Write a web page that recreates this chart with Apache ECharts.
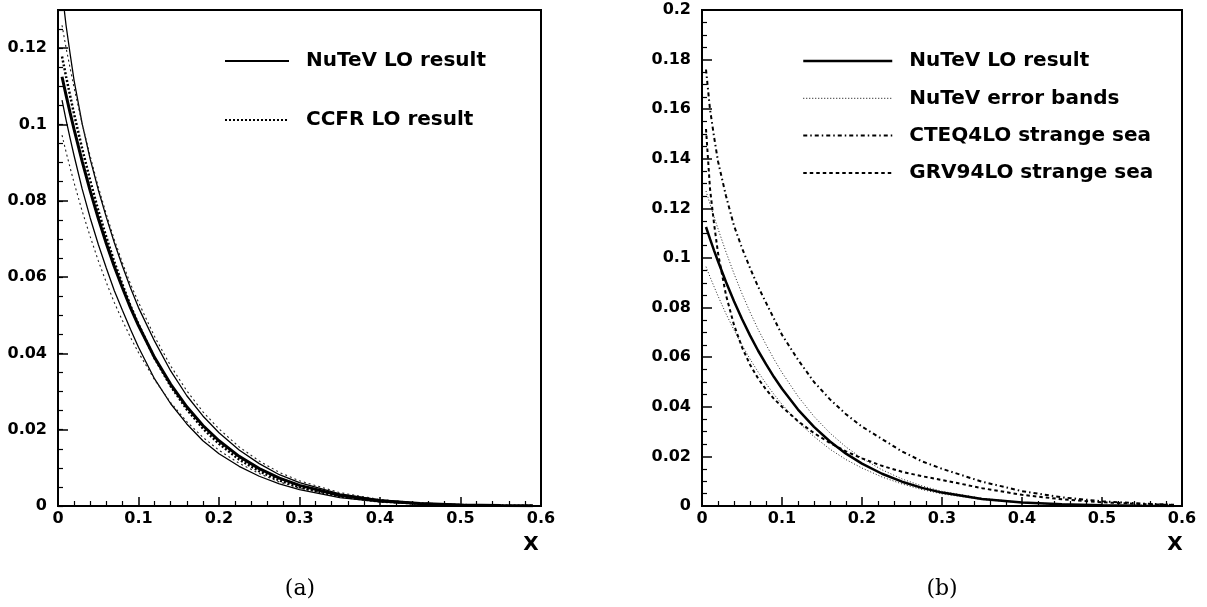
<!DOCTYPE html>
<html><head><meta charset="utf-8">
<script src="https://cdn.jsdelivr.net/npm/echarts@6/dist/echarts.min.js"></script>
<style>html,body{margin:0;padding:0;background:#fff}#c{width:1207px;height:607px}</style>
</head><body><div id="c"></div>
<script>
const xs = [0.005,0.01,0.015,0.02,0.03,0.04,0.05,0.06,0.07,0.08,0.09,0.1,0.12,0.14,0.16,0.18,0.2,0.225,0.25,0.275,0.3,0.35,0.4,0.45,0.5,0.55,0.59];
const nutevCentral = [0.1125,0.1077,0.1031,0.0987,0.0903,0.0826,0.0754,0.0688,0.0627,0.0572,0.0520,0.0473,0.0389,0.0319,0.0260,0.0211,0.0171,0.0130,0.0098,0.0073,0.0054,0.0028,0.0014,0.00067,0.00029,0.00012,0.00005];
const nutevUpperA = [0.135,0.126,0.1186,0.1115,0.1002,0.0909,0.0829,0.0757,0.0690,0.0629,0.0572,0.0520,0.0432,0.0354,0.0289,0.0236,0.0192,0.0147,0.0111,0.0082,0.0061,0.0032,0.0016,0.00076,0.00033,0.00014,0.00006];
const nutevLowerA = [0.1064,0.1012,0.0964,0.0918,0.0831,0.0755,0.0686,0.0624,0.0564,0.0513,0.0463,0.0416,0.0333,0.0268,0.0215,0.0171,0.0137,0.0104,0.0078,0.0058,0.0043,0.0022,0.0011,0.00052,0.00023,0.00009,0.00004];
const ccfrCentral = [0.1178,0.1126,0.1076,0.1027,0.0937,0.0853,0.0775,0.0705,0.0640,0.0581,0.0525,0.0476,0.0387,0.0314,0.0253,0.0203,0.0163,0.0122,0.0091,0.0067,0.0049,0.0025,0.0012,0.00057,0.00025,0.0001,0.00004];
const ccfrUpper = [0.126,0.1201,0.1148,0.1096,0.1002,0.0917,0.0837,0.0765,0.0698,0.0638,0.0582,0.0534,0.0444,0.0367,0.0302,0.0247,0.0202,0.0155,0.0118,0.0088,0.0066,0.0035,0.0017,0.0008,0.00036,0.00015,0.00006];
const ccfrLower = [0.0972,0.0928,0.0887,0.0847,0.0773,0.0706,0.0643,0.0586,0.0533,0.0486,0.0442,0.0402,0.0331,0.0271,0.0221,0.0180,0.0146,0.0112,0.0085,0.0063,0.0047,0.0025,0.0012,0.00058,0.00025,0.0001,0.00004];
const nutevUpperB = [0.127,0.1218,0.1167,0.1118,0.1024,0.0937,0.0856,0.0782,0.0713,0.0651,0.0592,0.0538,0.0442,0.0361,0.0294,0.0238,0.0192,0.0146,0.0109,0.0081,0.0059,0.0031,0.0015,0.00073,0.00032,0.00013,0.00005];
const nutevLowerB = [0.0965,0.0924,0.0885,0.0847,0.0775,0.0710,0.0649,0.0593,0.0541,0.0494,0.0450,0.0410,0.0339,0.0280,0.0229,0.0187,0.0153,0.0117,0.0089,0.0066,0.0049,0.0026,0.0013,0.00062,0.00027,0.00011,0.00005];
const cteq = [0.176,0.160,0.149,0.139,0.125,0.113,0.104,0.096,0.0885,0.082,0.0755,0.069,0.059,0.050,0.043,0.037,0.032,0.027,0.022,0.018,0.015,0.0098,0.0060,0.0035,0.0019,0.0010,0.0005];
const grv = [0.152,0.128,0.114,0.102,0.085,0.073,0.064,0.057,0.0515,0.0470,0.0432,0.0400,0.0342,0.0294,0.0254,0.0220,0.0192,0.0162,0.0138,0.0120,0.0105,0.0072,0.0045,0.0027,0.0015,0.0008,0.0004];
const legendA = ['NuTeV LO result','CCFR LO result'];
const legendB = ['NuTeV LO result','NuTeV error bands','CTEQ4LO strange sea','GRV94LO strange sea'];

const FONT = 'DejaVu Sans';
function pairs(ys){ return xs.map((x,i)=>[x, ys[i]]); }
function line(name, ys, gi, yi, width, type, color){
  return {type:'line', name:name, data:pairs(ys), xAxisIndex:gi, yAxisIndex:yi,
    symbol:'none', showSymbol:false, smooth:false, clip:true, silent:true,
    itemStyle:{color:color||'#000'},
    lineStyle:{color:color||'#000', width:width, type:type||'solid'}};
}
const tickLabel = {color:'#000', fontFamily:FONT, fontWeight:'bold', fontSize:16};
function xAx(gi){
  return {gridIndex:gi, type:'value', min:0, max:0.6, interval:0.1,
    axisLine:{onZero:false, lineStyle:{color:'#000', width:2}},
    axisTick:{inside:true, length:9, lineStyle:{color:'#000', width:1.5}},
    minorTick:{show:true, splitNumber:5, length:5, lineStyle:{color:'#000', width:1.2}},
    axisLabel:Object.assign({margin:5}, tickLabel), splitLine:{show:false}};
}
const hid = {opacity:0, color:'rgba(0,0,0,0)', borderWidth:0};
const chart = echarts.init(document.getElementById('c'));
chart.setOption({
  animation:false,
  backgroundColor:'#fff',
  grid:[
    {left:58, top:10, width:483, height:496, show:true, borderColor:'#000', borderWidth:2},
    {left:702, top:10, width:480, height:496, show:true, borderColor:'#000', borderWidth:2}
  ],
  xAxis:[xAx(0), xAx(1)],
  yAxis:[
    {gridIndex:0, type:'value', min:0, max:0.13, interval:0.02,
      axisLine:{lineStyle:{color:'#000', width:2}},
      axisTick:{inside:true, length:10, lineStyle:{color:'#000', width:1.5}},
      axisLabel:Object.assign({margin:11, showMaxLabel:false, formatter:function(v){return (Math.abs(v*50-Math.round(v*50))<1e-6)? String(+v.toFixed(3)) : '';}}, tickLabel),
      splitLine:{show:false}},
    {gridIndex:0, type:'value', position:'left', min:0, max:0.13, interval:0.005,
      axisLine:{show:false}, axisLabel:{show:false}, splitLine:{show:false},
      axisTick:{inside:true, length:5, lineStyle:{color:'#000', width:1.2}}},
    {gridIndex:1, type:'value', min:0, max:0.2, interval:0.02,
      axisLine:{lineStyle:{color:'#000', width:2}},
      axisTick:{inside:true, length:10, lineStyle:{color:'#000', width:1.5}},
      minorTick:{show:true, splitNumber:4, length:5, lineStyle:{color:'#000', width:1.2}},
      axisLabel:Object.assign({margin:11}, tickLabel), splitLine:{show:false}}
  ],
  legend:[
    {orient:'vertical', left:219, top:46, itemWidth:64, itemHeight:14, itemGap:39, selectedMode:false,
      itemStyle:hid,
      textStyle:{fontFamily:FONT, fontWeight:'bold', fontSize:20, color:'#000', lineHeight:20, padding:[0,0,0,12]},
      data:[{name:legendA[0], itemStyle:hid, lineStyle:{width:2, type:'solid', color:'#000'}},
            {name:legendA[1], itemStyle:hid, lineStyle:{width:2, type:[2,2], color:'#000'}}]},
    {orient:'vertical', left:797, top:46, itemWidth:89, itemHeight:14, itemGap:17.3, selectedMode:false,
      itemStyle:hid,
      textStyle:{fontFamily:FONT, fontWeight:'bold', fontSize:20, color:'#000', lineHeight:20, padding:[0,0,0,12]},
      data:[{name:legendB[0], itemStyle:hid, lineStyle:{width:2.5, type:'solid', color:'#000'}},
            {name:legendB[1], itemStyle:hid, lineStyle:{width:1, type:[1,2], color:'#000'}},
            {name:legendB[2], itemStyle:hid, lineStyle:{width:2, type:[4,3,1.5,3], color:'#000'}},
            {name:legendB[3], itemStyle:hid, lineStyle:{width:2, type:[3.5,3], color:'#000'}}]}
  ],
  graphic:[
    {type:'text', x:531, y:545, style:{text:'X', fontFamily:FONT, fontWeight:'bold', fontSize:20, fill:'#000', align:'center', verticalAlign:'middle'}},
    {type:'text', x:1175, y:545, style:{text:'X', fontFamily:FONT, fontWeight:'bold', fontSize:20, fill:'#000', align:'center', verticalAlign:'middle'}},
    {type:'text', x:300, y:589, style:{text:'(a)', fontFamily:'DejaVu Serif', fontSize:22, fill:'#000', align:'center', verticalAlign:'middle'}},
    {type:'text', x:942, y:589, style:{text:'(b)', fontFamily:'DejaVu Serif', fontSize:22, fill:'#000', align:'center', verticalAlign:'middle'}}
  ],
  series:[
    line('nutev-up-a', nutevUpperA, 0, 0, 1.3),
    line('nutev-lo-a', nutevLowerA, 0, 0, 1.3),
    line('ccfr-up', ccfrUpper, 0, 0, 1.1, [2,3], '#222'),
    line('ccfr-lo', ccfrLower, 0, 0, 1.1, [2,3], '#222'),
    line(legendA[1], ccfrCentral, 0, 0, 2.5, [2,2]),
    line(legendA[0], nutevCentral, 0, 0, 3),
    line(legendB[1], nutevUpperB, 1, 2, 1, [1,2], '#222'),
    line(legendB[1], nutevLowerB, 1, 2, 1, [1,2], '#222'),
    line(legendB[2], cteq, 1, 2, 2, [4,3,1.5,3]),
    line(legendB[3], grv, 1, 2, 2, [3.5,3]),
    line(legendB[0], nutevCentral, 1, 2, 2.5)
  ]
});
</script></body></html>
